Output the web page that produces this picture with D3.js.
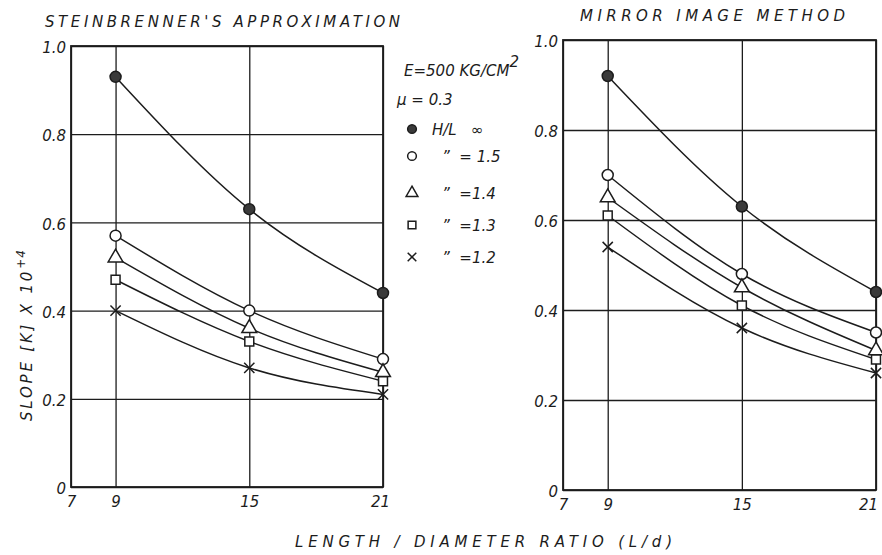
<!DOCTYPE html>
<html>
<head>
<meta charset="utf-8">
<script src="https://cdn.jsdelivr.net/npm/d3@7"></script>
<style>
  body { margin: 0; background: #fff; }
  svg text { font-family: "DejaVu Sans", sans-serif; font-style: italic; fill: #1c1c1c; }
</style>
</head>
<body>
<div id="chart"></div>
<script>
// L/d ratios where values were computed
const ldRatio = [9, 15, 21];
const xTicks = [7, 9, 15, 21];
const yTicks = [0, 0.2, 0.4, 0.6, 0.8, 1.0];

// H/L cases (series order)
const hlCases = ["∞", "1.5", "1.4", "1.3", "1.2"];
const markerKind = ["dot", "circle", "triangle", "square", "cross"];

// slope [K] x 10^4 — Steinbrenner's approximation
const steinInf = [0.93, 0.63, 0.44];
const stein15  = [0.57, 0.40, 0.29];
const stein14  = [0.52, 0.36, 0.26];
const stein13  = [0.47, 0.33, 0.24];
const stein12  = [0.40, 0.27, 0.21];

// slope [K] x 10^4 — mirror image method
const mirrorInf = [0.92, 0.63, 0.44];
const mirror15  = [0.70, 0.48, 0.35];
const mirror14  = [0.65, 0.45, 0.31];
const mirror13  = [0.61, 0.41, 0.29];
const mirror12  = [0.54, 0.36, 0.26];

const width = 882, height = 555;
const ink = "#1c1c1c";

const svg = d3.select("#chart")
              .append("svg")
              .attr("width", width)
              .attr("height", height);

function marker(kind, size) {
    const types = {
        dot: d3.symbolCircle, circle: d3.symbolCircle,
        triangle: d3.symbolTriangle, square: d3.symbolSquare, cross: d3.symbolX
    };
    return d3.symbol().type(types[kind]).size(size)();
}

function drawPanel(opts) {
    const x = d3.scaleLinear().domain([7, 21]).range([opts.left, opts.right]);
    const y = d3.scaleLinear().domain([0, 1]).range([opts.bottom, opts.top]);
    const g = svg.append("g");

    // horizontal grid + y labels
    const yAxis = d3.axisLeft(y)
                    .tickValues(yTicks)
                    .tickSize(-(opts.right - opts.left))
                    .tickPadding(5)
                    .tickFormat(d => d === 0 ? "0" : d.toFixed(1));
    g.append("g")
     .attr("transform", `translate(${opts.left},0)`)
     .call(yAxis)
     .call(a => a.select(".domain").remove())
     .call(a => a.selectAll("line").attr("stroke", ink).attr("stroke-width", 1.3))
     .call(a => a.selectAll("text").attr("font-size", 15).attr("fill", ink).attr("dy", "0.45em"));

    // vertical grid + x labels
    const xAxis = d3.axisBottom(x)
                    .tickValues(xTicks)
                    .tickSize(-(opts.bottom - opts.top))
                    .tickPadding(9);
    g.append("g")
     .attr("transform", `translate(0,${opts.bottom})`)
     .call(xAxis)
     .call(a => a.select(".domain").remove())
     .call(a => a.selectAll("line").attr("stroke", ink).attr("stroke-width", 1.3))
     .call(a => a.selectAll("text").attr("font-size", 15).attr("fill", ink)
                 .attr("dx", d => d === 21 ? opts.lastDx : 0));

    // frame
    g.append("rect")
     .attr("x", opts.left).attr("y", opts.top)
     .attr("width", opts.right - opts.left)
     .attr("height", opts.bottom - opts.top)
     .attr("fill", "none")
     .attr("stroke", ink)
     .attr("stroke-width", 1.8);

    const line = d3.line()
                   .x((d, i) => x(ldRatio[i]))
                   .y(d => y(d))
                   .curve(d3.curveMonotoneX);

    // curves
    g.selectAll("path.curve")
     .data(opts.series)
     .join("path")
     .attr("class", "curve")
     .attr("d", line)
     .attr("fill", "none")
     .attr("stroke", ink)
     .attr("stroke-width", 1.5);

    // markers
    opts.series.forEach((vals, s) => {
        const kind = markerKind[s];
        g.selectAll(null)
         .data(vals)
         .join("path")
         .attr("transform", (d, i) => `translate(${x(ldRatio[i])},${y(d)})`)
         .attr("d", marker(kind, kind === "cross" ? 70 : kind === "square" ? 80 : 95))
         .attr("fill", kind === "dot" ? "#3a3a3a" : "#fff")
         .attr("stroke", ink)
         .attr("stroke-width", 1.5);
    });

    // title
    svg.append("text")
       .attr("x", opts.titleX)
       .attr("y", opts.titleY)
       .attr("font-size", 15)
       .attr("textLength", opts.titleW)
       .attr("lengthAdjust", "spacing")
       .text(opts.title);
}

drawPanel({
    left: 71, right: 383, top: 46, bottom: 487, lastDx: -3,
    series: [steinInf, stein15, stein14, stein13, stein12],
    title: "STEINBRENNER'S APPROXIMATION", titleX: 45, titleY: 27, titleW: 355
});

drawPanel({
    left: 563, right: 876, top: 40, bottom: 490, lastDx: -8,
    series: [mirrorInf, mirror15, mirror14, mirror13, mirror12],
    title: "MIRROR IMAGE METHOD", titleX: 580, titleY: 21, titleW: 265
});

// y axis label
const yl = svg.append("text")
              .attr("transform", "translate(32,421) rotate(-90)")
              .attr("font-size", 15)
              .attr("letter-spacing", 2.8);
yl.append("tspan").text("SLOPE [K] X 10");
yl.append("tspan").attr("dy", -7).attr("font-size", 12).attr("letter-spacing", 1).text("+4");

// x axis label
svg.append("text")
   .attr("x", 295).attr("y", 547)
   .attr("font-size", 15)
   .attr("textLength", 377)
   .attr("lengthAdjust", "spacing")
   .text("LENGTH / DIAMETER RATIO (L/d)");

// legend
const leg = svg.append("g");
const e = leg.append("text").attr("x", 404).attr("y", 76).attr("font-size", 15);
e.append("tspan").text("E=500 KG/CM");
e.append("tspan").attr("dy", -9).attr("font-size", 15).text("2");
leg.append("text").attr("x", 397).attr("y", 105).attr("font-size", 15).text("μ = 0.3");

const legY = [129, 156, 193, 225, 257];
const legText = ["H/L   " + hlCases[0], "”  = " + hlCases[1], "”  =" + hlCases[2], "”  =" + hlCases[3], "”  =" + hlCases[4]];
markerKind.forEach((kind, i) => {
    leg.append("path")
       .attr("transform", `translate(412,${legY[i]})`)
       .attr("d", marker(kind, kind === "cross" ? 50 : 60))
       .attr("fill", kind === "dot" ? "#3a3a3a" : "#fff")
       .attr("stroke", ink)
       .attr("stroke-width", 1.5);
    leg.append("text")
       .attr("x", i === 0 ? 432 : 442)
       .attr("y", legY[i] + 6)
       .attr("font-size", 15)
       .attr("xml:space", "preserve")
       .style("white-space", "pre")
       .text(legText[i]);
});
</script>
</body>
</html>
